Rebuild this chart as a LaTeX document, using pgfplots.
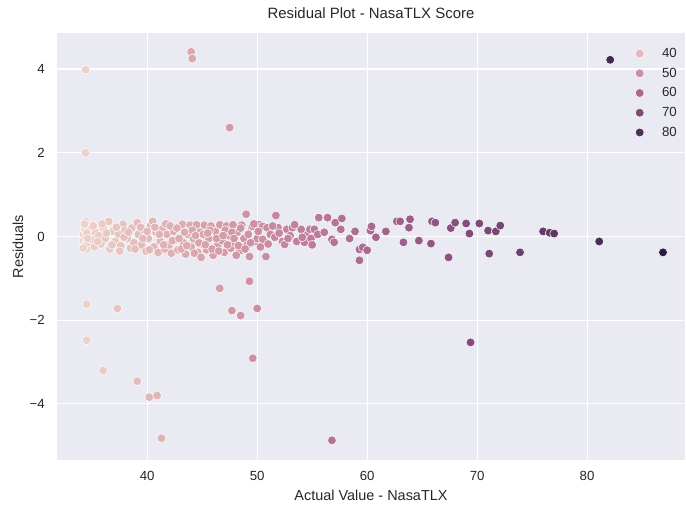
\documentclass[border=0pt]{standalone}
\usepackage{pgfplots}
\pgfplotsset{compat=1.18}
\usepackage{fontspec}
\setmainfont{Liberation Sans}
\definecolor{bg}{HTML}{EAEAF2}
\definecolor{txt}{HTML}{262626}
\definecolor{l40}{RGB}{226,184,185}
\definecolor{l50}{RGB}{204,143,162}
\definecolor{l60}{RGB}{170,106,144}
\definecolor{l70}{RGB}{127,74,122}
\definecolor{l80}{RGB}{79,48,90}
\pgfplotstableread{
x y
34.2 0.05
34.2 -0.10
34.3 0.20
34.3 -0.22
34.4 0.36
34.4 0.12
34.4 -0.02
34.5 -0.30
34.5 0.28
34.6 -0.15
34.7 0.05
34.9 0.18
35.0 -0.08
35.2 -0.25
35.3 0.10
35.6 0.02
35.8 -0.18
36.0 0.22
36.2 -0.05
36.5 0.36
36.6 -0.30
36.9 0.12
37.1 -0.12
37.4 0.05
37.6 -0.22
37.8 0.29
38.0 0.15
38.2 -0.05
38.5 -0.28
38.6 0.20
38.8 -0.15
39.1 0.33
39.2 0.05
39.5 -0.20
39.7 0.15
39.9 -0.35
40.1 -0.05
40.3 0.25
40.5 0.36
40.6 -0.25
40.8 0.10
41.0 -0.38
41.2 -0.12
41.4 0.18
41.6 -0.30
41.8 0.05
42.0 -0.20
42.2 -0.40
42.4 0.12
42.6 -0.08
42.8 -0.32
43.0 0.22
43.2 0.29
43.3 -0.15
43.5 -0.42
43.7 0.05
43.9 0.27
44.0 -0.25
44.2 -0.05
44.5 0.28
44.6 -0.38
44.8 0.10
45.0 -0.18
45.2 0.27
45.4 -0.32
45.6 -0.05
45.8 0.25
46.0 -0.45
46.2 0.12
46.4 -0.22
46.6 0.28
46.8 -0.10
47.0 -0.38
47.2 0.25
47.4 0.02
47.6 -0.28
47.8 0.28
48.0 -0.15
48.2 0.10
48.4 -0.35
48.6 0.27
48.8 -0.05
49.0 0.53
49.1 -0.20
49.3 -0.48
49.5 0.22
49.6 0.24
49.8 -0.12
50.0 -0.05
50.2 0.28
50.5 0.24
50.5 -0.07
50.8 -0.48
50.9 0.21
51.2 0.05
51.6 -0.02
51.7 0.50
51.9 0.21
52.3 -0.12
52.5 -0.19
52.7 0.17
53.0 0.02
53.2 0.21
53.6 -0.12
54.0 0.17
54.3 -0.14
54.6 0.05
54.8 0.17
54.9 -0.05
55.2 0.17
55.6 0.45
56.4 0.45
56.8 -0.07
57.0 -0.14
57.1 0.33
57.6 0.17
57.7 0.43
58.4 -0.05
58.9 0.12
59.3 -0.31
59.3 -0.57
59.6 -0.26
60.0 -0.33
60.3 0.14
60.4 0.24
60.8 -0.02
61.7 0.12
62.7 0.36
63.0 0.36
63.3 -0.14
63.8 0.21
63.9 0.41
64.7 -0.10
65.8 -0.17
65.9 0.36
66.2 0.33
67.4 -0.50
67.6 0.20
68.0 0.33
69.0 0.31
69.3 0.07
70.2 0.31
71.0 0.14
71.1 -0.41
71.7 0.12
72.1 0.26
73.9 -0.38
76.0 0.12
76.6 0.09
77.0 0.07
81.1 -0.12
86.9 -0.38
34.3 0.30
34.2 -0.28
34.5 0.08
34.6 -0.05
35.1 0.25
35.5 -0.12
35.9 0.30
36.3 0.08
36.8 -0.20
37.2 0.22
37.5 -0.35
37.9 -0.02
38.3 0.10
38.9 -0.30
39.4 0.22
39.6 -0.05
40.0 0.12
40.2 -0.32
40.7 0.22
41.1 0.05
41.5 -0.20
41.7 0.30
42.1 0.25
42.3 -0.10
42.7 0.20
43.1 -0.30
43.4 0.10
43.6 -0.22
44.1 0.15
44.3 -0.40
44.7 -0.15
45.1 0.05
45.3 -0.20
45.7 0.15
45.9 -0.30
46.3 -0.05
46.5 -0.35
47.1 0.15
47.3 -0.20
47.7 0.10
47.9 -0.05
48.3 -0.22
48.5 0.20
48.9 -0.30
49.2 0.05
49.4 -0.15
49.7 0.30
50.1 0.12
50.3 -0.25
51.0 -0.18
51.4 0.25
52.0 0.08
52.8 -0.05
53.4 0.28
54.1 -0.02
55.0 -0.20
55.5 0.05
56.1 0.10
44.9 -0.50
46.9 0.02
48.1 -0.45
45.5 0.08
42.9 -0.05
44.4 0.02
34.4 3.98
34.4 2.00
44.0 4.41
44.1 4.25
47.5 2.60
82.1 4.22
34.5 -1.62
37.3 -1.72
34.5 -2.48
36.0 -3.20
39.1 -3.46
40.2 -3.84
40.9 -3.80
41.3 -4.82
46.6 -1.24
49.3 -1.07
47.7 -1.77
48.5 -1.89
50.0 -1.72
49.6 -2.91
56.8 -4.87
69.4 -2.53
}\datatable
\begin{document}
\begin{tikzpicture}
\path[use as bounding box] (-57bp,-46bp) rectangle (629bp,460bp);
\begin{axis}[
  at={(0,0)}, anchor=south west,
  scale only axis, width=628bp, height=427bp,
  xmin=31.8, xmax=88.9, ymin=-5.34, ymax=4.86,
  axis background/.style={fill=bg},
  axis line style={draw=none},
  grid=major, major grid style={white, line width=1.1bp},
  major tick length=0pt,
  xtick={40,50,60,70,80}, xticklabels={40,50,60,70,80},
  ytick={-4,-2,0,2,4}, yticklabels={−4,−2,0,2,4},
  tick label style={font=\fontsize{13.3}{15}\selectfont, text=txt, inner sep=0pt},
  xticklabel style={anchor=center, yshift=-16bp},
  yticklabel style={anchor=east, xshift=-12bp},
  xlabel={Actual Value - NasaTLX},
  ylabel={Residuals},
  every axis x label/.style={at={([yshift=-35bp]rel axis cs:0.5,0)}, anchor=center,
    font=\fontsize{14.5}{17}\selectfont, text=txt, inner sep=0pt},
  every axis y label/.style={at={([xshift=-39bp]rel axis cs:0,0.5)}, anchor=center, rotate=90,
    font=\fontsize{14.5}{17}\selectfont, text=txt, inner sep=0pt},
  title={Residual Plot - NasaTLX Score},
  every axis title/.style={at={([yshift=20bp]rel axis cs:0.5,1)}, anchor=center,
    font=\fontsize{15}{17}\selectfont, text=txt, inner sep=0pt},
  colormap={ch}{rgb255=(237,209,203) rgb255=(218,164,172) rgb255=(189,122,152) rgb255=(147,86,133) rgb255=(97,57,105) rgb255=(45,30,62)},
  point meta min=34.2, point meta max=86.9,
  legend style={at={(1,1)}, anchor=north east, xshift=-3bp, yshift=-11bp, draw=none, fill=none,
    font=\fontsize{13.3}{15}\selectfont, text=txt, row sep=5bp,
    /tikz/every odd column/.append style={column sep=16bp}},
  legend cell align=left,
]
\addplot[scatter, only marks, mark=*, mark size=4.4bp, scatter src=x,
  scatter/use mapped color={draw=white, fill=mapped color},
  mark options={line width=0.5bp}, forget plot] table[x=x, y=y] {\datatable};
\addlegendimage{only marks, mark=*, mark size=4.4bp, mark options={fill=l40, draw=white, line width=0.5bp}}
\addlegendentry{40}
\addlegendimage{only marks, mark=*, mark size=4.4bp, mark options={fill=l50, draw=white, line width=0.5bp}}
\addlegendentry{50}
\addlegendimage{only marks, mark=*, mark size=4.4bp, mark options={fill=l60, draw=white, line width=0.5bp}}
\addlegendentry{60}
\addlegendimage{only marks, mark=*, mark size=4.4bp, mark options={fill=l70, draw=white, line width=0.5bp}}
\addlegendentry{70}
\addlegendimage{only marks, mark=*, mark size=4.4bp, mark options={fill=l80, draw=white, line width=0.5bp}}
\addlegendentry{80}
\end{axis}
\end{tikzpicture}
\end{document}
